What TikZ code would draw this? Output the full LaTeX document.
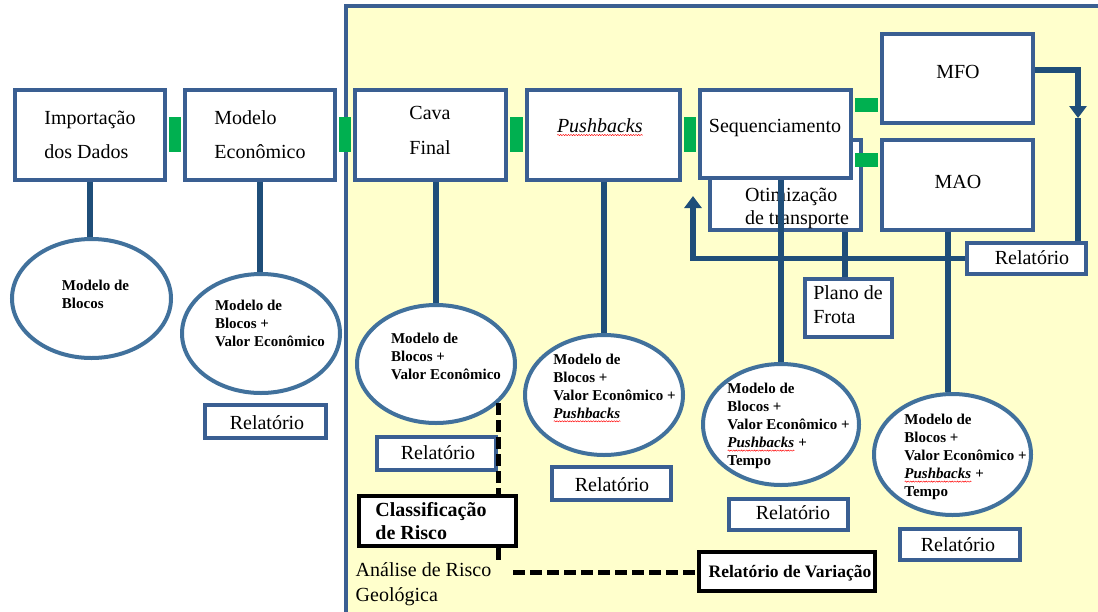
\documentclass[tikz,border=0pt]{standalone}
\usepackage{fontspec}
\setmainfont{Liberation Serif}
\usetikzlibrary{shapes.geometric,arrows.meta,decorations.pathmorphing}
\definecolor{boxblue}{HTML}{3A5F92}
\definecolor{lineblue}{HTML}{1F4E79}
\definecolor{ellblue}{HTML}{41719C}
\definecolor{bgyellow}{HTML}{FFFFCC}
\definecolor{bargreen}{HTML}{00B050}
\newsavebox\wavebox
\newcommand\redwave[1]{\sbox\wavebox{#1}\rlap{\usebox\wavebox}\raisebox{-3pt}{\tikz[baseline=0pt]\draw[red,line width=0.45pt,decorate,decoration={snake,amplitude=0.6pt,segment length=2.6pt}] (0pt,0pt) -- (\wd\wavebox,0pt);}}
\begin{document}
\begin{tikzpicture}[x=1pt,y=-1pt,
  box/.style={draw=boxblue, line width=4pt, fill=white, rectangle, inner sep=0pt},
  kbox/.style={draw=black, line width=4.5pt, fill=white, rectangle, inner sep=0pt},
  ell/.style={draw=ellblue, line width=4pt, fill=white, ellipse, inner sep=0pt},
  txt/.style={inner sep=0pt, font=\fontsize{20}{24}\selectfont},
  btxt/.style={inner sep=0pt, align=left, font=\bfseries\fontsize{15}{18}\selectfont},
  bline/.style={draw=lineblue, line width=5.5pt},
  gbar/.style={fill=bargreen},
  dsh/.style={draw=black, line width=5pt, dash pattern=on 12pt off 5pt},
  tip/.style={-{Triangle[width=17pt,length=12pt]}}
]
\useasboundingbox (0,0) rectangle (1098,611);
\clip (0,0) rectangle (1098,611);
% yellow region
\fill[bgyellow] (346,6) rectangle (1120,630);
\draw[draw=boxblue, line width=4pt] (346,630) -- (346,6) -- (1120,6);

% boxes
\node[box, minimum width=150pt, minimum height=90pt] (imp) at (90,135) {};
\node[box, minimum width=150pt, minimum height=90pt] (eco) at (260,135) {};
\node[box, minimum width=151pt, minimum height=90pt] (cava) at (430.5,135) {};
\node[box, minimum width=153pt, minimum height=90pt] (push) at (603.5,135) {};
\node[box, minimum width=151pt, minimum height=90pt] (otim) at (785.5,185) {};
\node[box, minimum width=151pt, minimum height=88pt] (seq) at (775.5,134) {};
\node[box, minimum width=151pt, minimum height=89pt] (mfo) at (957.5,78.5) {};
\node[box, minimum width=151pt, minimum height=90pt] (mao) at (957.5,185) {};
\node[box, minimum width=119pt, minimum height=31pt] (relr) at (1026.5,258.5) {};
\node[box, minimum width=87pt, minimum height=58pt] (plano) at (848.5,308) {};
\node[box, minimum width=121pt, minimum height=33pt] (rel1) at (265.5,421.5) {};
\node[box, minimum width=119pt, minimum height=33pt] (rel3) at (436.5,453.5) {};
\node[box, minimum width=119pt, minimum height=33pt] (rel4) at (611.5,483.5) {};
\node[box, minimum width=119pt, minimum height=31pt] (rel5) at (788.5,514.5) {};
\node[box, minimum width=120pt, minimum height=31pt] (rel6) at (960,544.5) {};
\node[kbox, minimum width=157pt, minimum height=50pt] (class) at (437.5,521) {};
\node[kbox, minimum width=176pt, minimum height=39pt] (relvar) at (787,571.5) {};

% ellipses
\node[ell, minimum width=159pt, minimum height=119pt] (e1) at (91.5,298.5) {};
\node[ell, minimum width=158pt, minimum height=119pt] (e2) at (261,333.5) {};
\node[ell, minimum width=158pt, minimum height=118pt] (e3) at (436,364) {};
\node[ell, minimum width=158pt, minimum height=120pt] (e4) at (604,395) {};
\node[ell, minimum width=156pt, minimum height=121pt] (e5) at (781,424.5) {};
\node[ell, minimum width=157pt, minimum height=121pt] (e6) at (952.5,454.5) {};

% green bars
\fill[gbar] ([xshift=2pt]imp.east |- 0,117) rectangle ([xshift=-2pt]eco.west |- 0,152);
\fill[gbar] ([xshift=2pt]eco.east |- 0,117) rectangle ([xshift=-2pt]cava.west |- 0,152);
\fill[gbar] ([xshift=2pt]cava.east |- 0,117) rectangle ([xshift=-2pt]push.west |- 0,152);
\fill[gbar] ([xshift=2pt]push.east |- 0,117) rectangle ([xshift=-2pt]seq.west |- 0,152);
\fill[gbar] ([xshift=2pt]seq.east |- 0,98) rectangle ([xshift=-2pt]mfo.west |- 0,112);
\fill[gbar] ([xshift=2pt]seq.east |- 0,153) rectangle ([xshift=-2pt]mao.west |- 0,167);

% texts in boxes
\node[txt, align=left, font=\fontsize{20}{34}\selectfont] (timp) at (90,135) {Importação\\dos Dados};
\node[txt, align=left, font=\fontsize{20}{34}\selectfont] (teco) at (260,135) {Modelo\\Econômico};
\node[txt, align=center, font=\fontsize{20}{35}\selectfont] (tcava) at (430,130.5) {Cava\\Final};
\node[txt] (tpush) at (600,127) {\textit{\redwave{Pushbacks}}};
\node[txt] (tseq) at (775,128) {Sequenciamento};
\node[txt, align=left, font=\fontsize{20}{23}\selectfont] (totim) at (797,208.5) {Otimização\\de transporte};
\node[txt] (tmfo) at (958,72) {MFO};
\node[txt] (tmao) at (958,182) {MAO};
\node[txt] (trelr) at (1032,258) {Relatório};
\node[txt, align=left] (tplano) at (848,305) {Plano de\\Frota};
\node[txt] (trel1) at (267,423) {Relatório};
\node[txt] (trel3) at (438,453) {Relatório};
\node[txt] (trel4) at (612,485) {Relatório};
\node[txt] (trel5) at (793,513) {Relatório};
\node[txt] (trel6) at (958,545) {Relatório};
\node[txt, align=left, font=\bfseries\fontsize{20}{23}\selectfont] (tclass) at (431,521.5) {Classificação\\de Risco};
\node[txt, font=\bfseries\fontsize{17.5}{20}\selectfont] (trelvar) at (790,573) {Relatório de Variação};
\node[txt, align=left, font=\fontsize{20}{25}\selectfont] (tanal) at (423.5,584.5) {Análise de Risco\\Geológica};

% ellipse texts
\node[btxt] (et1) at (95.5,294) {Modelo de\\Blocos};
\node[btxt] (et2) at (270,323) {Modelo de\\Blocos +\\Valor Econômico};
\node[btxt] (et3) at (446,356) {Modelo de\\Blocos +\\Valor Econômico};
\node[btxt] (et4) at (614.5,388) {Modelo de\\Blocos +\\Valor Econômico +\\\textit{\redwave{Pushbacks}}};
\node[btxt] (et5) at (788.5,426) {Modelo de\\Blocos +\\Valor Econômico +\\\textit{\redwave{Pushbacks}} +\\Tempo};
\node[btxt] (et6) at (965.5,457) {Modelo de\\Blocos +\\Valor Econômico +\\\textit{\redwave{Pushbacks}} +\\Tempo};

% connectors
\draw[bline] (imp.south) -- (imp.south |- e1.north);
\draw[bline] (eco.south) -- (eco.south |- e2.north);
\draw[bline] (e3.north |- cava.south) -- (e3.north);
\draw[bline] (e4.north |- push.south) -- (e4.north);
\draw[bline] (e5.north |- seq.south) -- (e5.north);
\draw[bline] ([xshift=-4.5pt]e6.north |- mao.south) -- ([xshift=-4.5pt]e6.north);
\draw[bline] ([xshift=-3.5pt]plano.north |- otim.south) -- ([xshift=-3.5pt]plano.north);

\coordinate (mfoarr) at (1078,118);
\draw[bline, tip] ([yshift=8.5pt]mfo.east) -| (mfoarr);
\draw[bline] (mfoarr) -- (mfoarr |- relr.north);
\coordinate (fbtip) at (693,196);
\draw[bline, tip] (relr.west) -| (fbtip);

% dashed
\coordinate (dtop) at (498,403);
\coordinate (dbot) at (498,562);
\coordinate (hleft) at (513,572);
\draw[dsh] (dtop) -- (dtop |- class.north);
\draw[dsh] (dtop |- class.south) -- (dbot);
\draw[dsh] (hleft) -- (hleft -| relvar.west);
\end{tikzpicture}
\end{document}
